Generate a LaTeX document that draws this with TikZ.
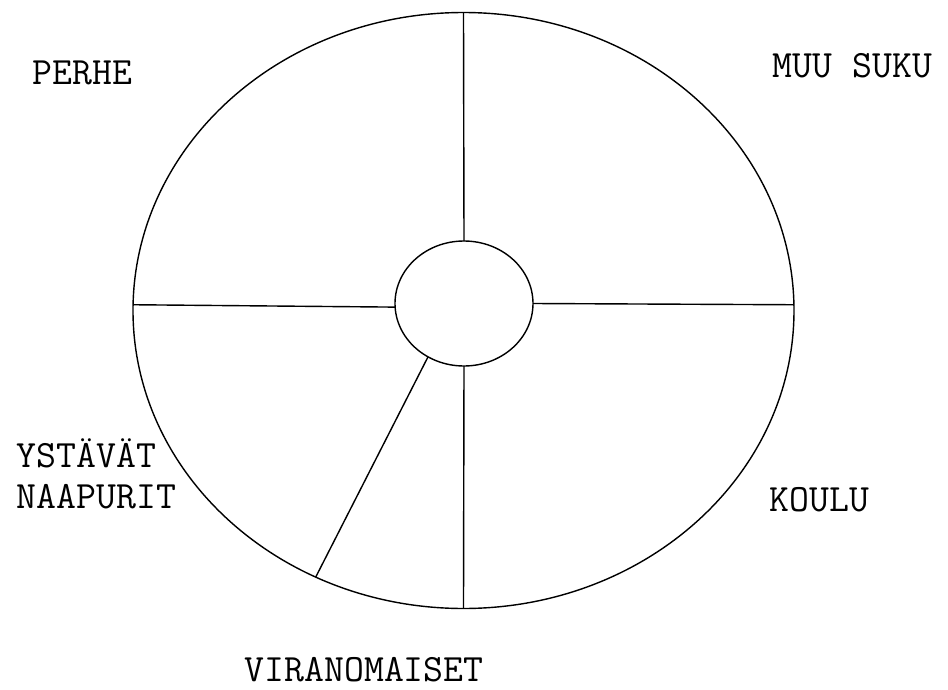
\documentclass[tikz,border=0pt]{standalone}
\usepackage{fontspec}
\usepackage{tikz}
\usetikzlibrary{shapes.geometric}

\begin{document}
\begin{tikzpicture}[x=0.02cm, y=-0.02cm, line width=0.8pt,
  every node/.style={font=\ttfamily\fontsize{22}{23.3}\selectfont, inner sep=0pt},
  ring/.style={draw, ellipse, outer sep=0pt, inner sep=0pt}]
\useasboundingbox (0,0) rectangle (948,690);
\node[ring, minimum width=661*0.02cm, minimum height=596*0.02cm] (outer) at (463.5,310.5) {};
\node[ring, minimum width=138*0.02cm, minimum height=125*0.02cm] (inner) at (464,303.5) {};
% spokes
\draw (inner.north) -- (outer.north);
\draw (inner.0) -- (outer.1.8);
\draw (inner.183.7) -- (outer.179.2);
\draw (inner.236.8) -- (outer.241.5);
\draw (inner.south) -- (outer.south);
% sector names
\node[anchor=base west] (perhe) at (32,84) {PERHE};
\node[anchor=base west] (suku) at (772,77) {MUU SUKU};
\node[anchor=base west, align=left] (ystavat) at (16,508) {YSTÄVÄT\\NAAPURIT};
\node[anchor=base west] (koulu) at (769,511) {KOULU};
\node[anchor=base west] (viranom) at (244,681) {VIRANOMAISET};
\end{tikzpicture}
\end{document}
